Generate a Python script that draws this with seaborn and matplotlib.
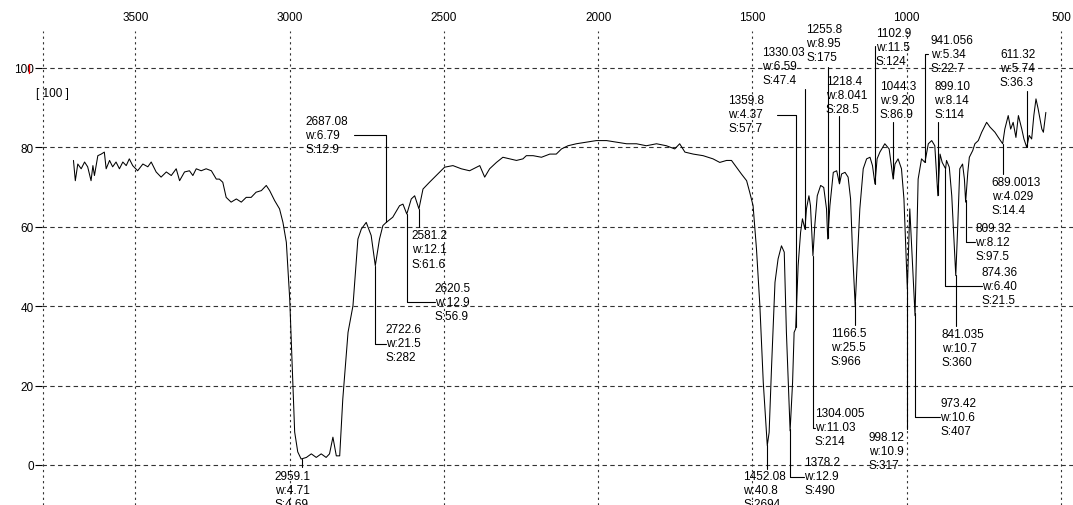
import numpy as np
import pandas as pd
import matplotlib
matplotlib.use("Agg")
import matplotlib.pyplot as plt
import seaborn as sns
from matplotlib.lines import Line2D

# IR spectrum (wavenumber in cm-1, %T)
wavenumber = [
    3701, 3695, 3687, 3676, 3665, 3655, 3644, 3638, 3633, 3622,
    3611, 3601, 3595, 3584, 3574, 3563, 3552, 3541, 3530, 3520,
    3509, 3493, 3476, 3460, 3449, 3433, 3417, 3400, 3384, 3368,
    3357, 3341, 3325, 3314, 3303, 3287, 3271, 3254, 3238, 3228,
    3217, 3206, 3190, 3173, 3157, 3141, 3125, 3109, 3092, 3076,
    3065, 3049, 3033, 3022, 3011, 3000, 2992, 2984, 2974, 2963,
    2946, 2930, 2914, 2898, 2882, 2871, 2860, 2849, 2838, 2828,
    2811, 2795, 2779, 2768, 2752, 2736, 2722.6, 2709, 2698, 2687,
    2666, 2644, 2633, 2620.5, 2606, 2595, 2581.2, 2568, 2547, 2525,
    2498, 2471, 2444, 2417, 2384, 2368, 2352, 2330, 2309, 2287,
    2265, 2244, 2233, 2211, 2184, 2157, 2136, 2119, 2098, 2071,
    2038, 2006, 1973, 1941, 1908, 1876, 1844, 1811, 1779, 1752,
    1736, 1719, 1692, 1660, 1628, 1606, 1584, 1568, 1552, 1536,
    1519, 1509, 1498, 1487, 1476, 1465, 1452, 1446, 1438, 1427,
    1417, 1406, 1397, 1390, 1378, 1370, 1365, 1360, 1352, 1344,
    1338, 1330, 1325, 1317, 1312, 1304, 1298, 1290, 1279, 1269,
    1260, 1256, 1249, 1238, 1227, 1218, 1211, 1200, 1190, 1182,
    1176, 1167, 1161, 1152, 1141, 1130, 1119, 1111, 1103, 1096,
    1087, 1071, 1057, 1044, 1038, 1028, 1017, 1009, 1003, 998,
    990, 973, 963, 952, 941, 930, 919, 909, 899, 892,
    885, 874, 871, 862, 854, 847, 841, 835, 828, 819,
    813, 809, 802, 797, 786, 779, 768, 757, 741, 730,
    714, 703, 689, 682, 671, 663, 655, 646, 638, 627,
    620, 611, 603, 595, 588, 581, 574, 568, 562, 557, 549,
]
transmittance = [
    76.7, 71.6, 75.8, 74.6, 76.3, 75.1, 71.6, 75.4, 72.9, 77.9,
    78.3, 78.8, 74.6, 76.7, 75.1, 76.3, 74.6, 76.3, 75.4, 77.1,
    75.4, 74.1, 75.8, 75.1, 76.3, 73.8, 72.5, 73.8, 72.9, 74.6,
    71.6, 73.8, 74.1, 72.9, 74.6, 74.1, 74.6, 74.1, 72.0, 72.0,
    71.2, 67.4, 66.2, 67.0, 66.2, 67.4, 67.4, 68.7, 69.1, 70.4,
    69.1, 66.6, 64.5, 61.1, 56.1, 41.8, 25.0, 8.3, 3.3, 1.5,
    1.9, 2.8, 1.9, 2.8, 1.9, 2.8, 7.0, 2.3, 2.3, 16.6,
    33.4, 40.1, 56.9, 59.4, 61.1, 57.8, 50.2, 56.9, 60.3, 61.1,
    62.4, 65.3, 65.7, 63.2, 67.0, 67.8, 64.5, 69.5, 71.2, 72.9,
    75.0, 75.4, 74.6, 74.1, 75.4, 72.5, 74.6, 76.2, 77.5, 77.1,
    76.7, 77.1, 77.9, 77.9, 77.5, 78.3, 78.3, 79.6, 80.4, 80.9,
    81.3, 81.7, 81.7, 81.3, 80.9, 80.9, 80.4, 80.9, 80.4, 79.6,
    80.9, 78.8, 78.3, 77.9, 77.1, 76.2, 76.7, 76.7, 75.0, 73.3,
    71.6, 68.7, 65.3, 54.4, 40.1, 20.8, 4.9, 8.2, 25.0, 46.0,
    51.9, 55.2, 53.6, 33.4, 8.6, 20.8, 33.4, 34.3, 50.2, 58.6,
    62.0, 59.4, 64.5, 67.8, 65.3, 52.7, 60.3, 67.8, 70.4, 69.9,
    64.5, 56.9, 65.3, 73.7, 74.1, 70.8, 73.3, 73.7, 72.5, 67.0,
    54.4, 40.1, 50.2, 64.5, 74.6, 77.1, 77.5, 75.4, 70.8, 77.1,
    78.8, 80.9, 79.6, 72.0, 75.8, 77.1, 74.6, 67.0, 54.4, 44.3,
    64.5, 37.6, 72.0, 77.1, 76.2, 80.9, 81.7, 80.4, 67.8, 78.3,
    76.2, 74.6, 76.7, 75.0, 67.8, 56.9, 47.7, 59.4, 74.6, 75.8,
    72.0, 66.2, 73.7, 77.5, 79.2, 80.9, 81.7, 83.8, 86.3, 85.1,
    83.8, 82.5, 80.9, 84.6, 88.0, 84.6, 86.3, 82.5, 88.0, 84.6,
    82.1, 80.0, 83.0, 82.1, 88.0, 92.2, 89.7, 87.2, 84.6, 83.8, 88.8,
]

# peak table: position, width, area
peak_labels = ["2959.1", "2722.6", "2687.08", "2620.5", "2581.2", "1452.08",
               "1378.2", "1359.8", "1330.03", "1304.005", "1255.8", "1218.4",
               "1166.5", "1102.9", "1044.3", "998.12", "973.42", "941.056",
               "899.10", "874.36", "841.035", "809.32", "689.0013", "611.32"]
peak_widths = ["4.71", "21.5", "6.79", "12.9", "12.1", "40.8",
               "12.9", "4.37", "6.59", "11.03", "8.95", "8.041",
               "25.5", "11.5", "9.20", "10.9", "10.6", "5.34",
               "8.14", "6.40", "10.7", "8.12", "4.029", "5.74"]
peak_areas = ["4.69", "282", "12.9", "56.9", "61.6", "2694",
              "490", "57.7", "47.4", "214", "175", "28.5",
              "966", "124", "86.9", "317", "407", "22.7",
              "114", "21.5", "360", "97.5", "14.4", "36.3"]

x_ticks = [3500, 3000, 2500, 2000, 1500, 1000, 500]
y_ticks = [0, 20, 40, 60, 80, 100]

# where each label sits: text left edge (cm-1), first line (%T), leader end
text_x = [3049, 2689, 2949, 2530, 2604, 1530, 1332, 1579, 1469, 1298, 1325, 1262,
          1246, 1100, 1087, 1123, 892, 922, 911, 757, 887, 778, 725, 698]
text_y = [-2.7, 34.3, 86.7, 44.6, 57.8, -2.7, 0.7, 92.0, 104.1, 13.1, 109.7, 96.8,
          33.3, 108.8, 95.5, 7.1, 15.6, 107.1, 95.5, 48.7, 33.0, 59.6, 71.2, 103.4]
lead_y = [-0.6, 30.5, 83.1, 41.0, 60.0, -1.0, -3.1, 88.2, 94.7, 9.4, 100.3, 88.0,
          35.3, 105.5, 86.4, 9.1, 12.0, 103.6, 86.4, 45.1, 35.1, 56.2, 73.3, 94.3]
lead_x = [None, 2689, 2793, 2530, None, None, 1332, 1420, None, 1298, None, None,
          None, None, None, None, 892, 930, None, 757, None, 778, None, None]

sns.set_theme(style="white")
plt.rcParams["font.family"] = ["Liberation Sans", "DejaVu Sans"]

fig = plt.figure(figsize=(10.73, 5.06), dpi=100)
ax = fig.add_axes([42 / 1073, 0, 1 - 42 / 1073, 1 - 32 / 506])

df = pd.DataFrame({"wavenumber": wavenumber, "transmittance": transmittance})
sns.lineplot(data=df, x="wavenumber", y="transmittance", ax=ax, color="black",
             lw=0.75, sort=False, estimator=None)

ax.set_xlim(3803, 461)
ax.set_ylim(-10.08, 109.3)
ax.set_xlabel("")
ax.set_ylabel("")
for s in ax.spines.values():
    s.set_visible(False)

ax.xaxis.tick_top()
ax.set_xticks([3800] + x_ticks, [""] + [str(t) for t in x_ticks])
ax.set_yticks(y_ticks, [str(t) for t in y_ticks])
ax.tick_params(axis="x", length=0, pad=6, labelsize=8.5, labelcolor="black")
ax.tick_params(axis="y", left=True, length=5, width=0.8, color="black", pad=1,
               labelsize=8.5, labelcolor="black")
ax.grid(False)
ax.xaxis.grid(True, color="#333333", lw=0.8, ls=(0, (2, 3)))
ax.yaxis.grid(True, color="#333333", lw=0.8, ls=(0, (4, 3)))
ax.set_axisbelow(True)

# peak labels with leader lines
wn_sorted = np.array(wavenumber)[::-1]
t_sorted = np.array(transmittance)[::-1]
line_step = 3.53
for i, lab in enumerate(peak_labels):
    pk = float(lab)
    pt = np.interp(pk, wn_sorted, t_sorted)
    xs = [pk, pk]
    ys = [pt, lead_y[i]]
    if lead_x[i] is not None:
        xs.append(lead_x[i])
        ys.append(lead_y[i])
    ax.plot(xs, ys, color="black", lw=0.8, clip_on=False)
    lines = [lab, "w:" + peak_widths[i], "S:" + peak_areas[i]]
    for j, txt in enumerate(lines):
        ax.text(text_x[i], text_y[i] - j * line_step, txt, ha="left", va="center",
                fontsize=8.5, color="black")

ax.text(3824, 93.7, "[ 100 ]", ha="left", va="center", fontsize=8.5, color="black")
fig.add_artist(Line2D([29 / 1073, 29 / 1073], [1 - 65 / 506, 1 - 74 / 506],
                      color="red", lw=1))

fig.savefig("out.png", dpi=100)
